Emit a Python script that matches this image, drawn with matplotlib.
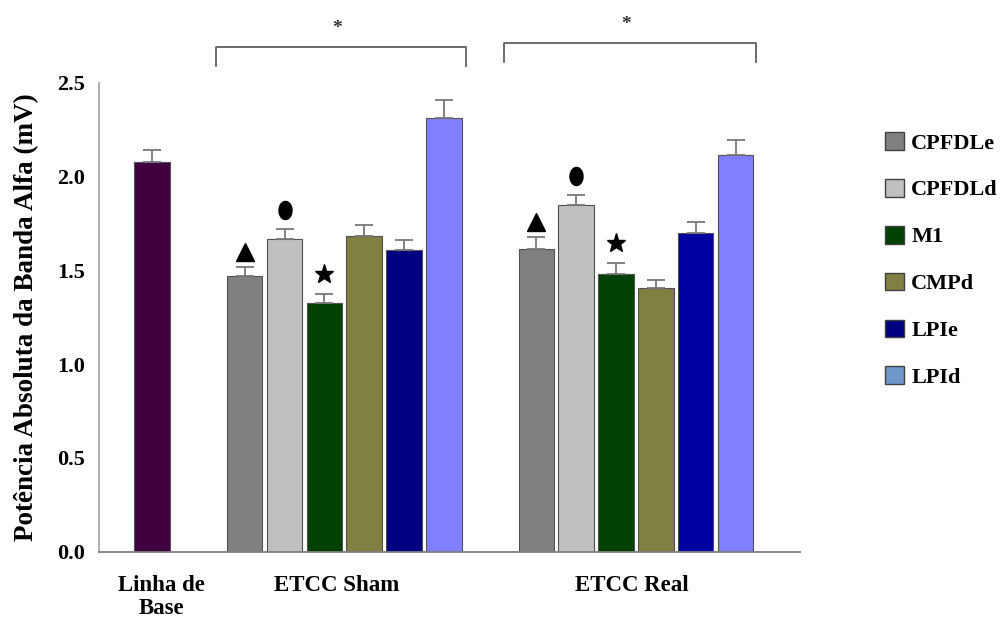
import numpy as np
import matplotlib
matplotlib.use("Agg")
import matplotlib.pyplot as plt
from matplotlib.patches import Patch
from matplotlib.path import Path

# Dados (mV)
regioes = ["CPFDLe", "CPFDLd", "M1", "CMPd", "LPIe", "LPId"]
grupos = ["Linha de\nBase", "ETCC Sham", "ETCC Real"]

linha_base = 2.08
linha_base_erro = 0.06

sham = [1.468, 1.668, 1.329, 1.684, 1.610, 2.311]
sham_erro = [0.048, 0.055, 0.046, 0.060, 0.052, 0.096]

real = [1.617, 1.850, 1.482, 1.405, 1.699, 2.115]
real_erro = [0.060, 0.055, 0.060, 0.043, 0.060, 0.080]

# marcadores de significancia sobre as barras (indice da regiao -> simbolo)
simbolos = {0: "triangulo", 1: "elipse", 2: "estrela"}

cores_sham = ["#808080", "#c0c0c0", "#004000", "#808040", "#000080", "#8080ff"]
cores_real = ["#808080", "#c0c0c0", "#004000", "#808040", "#0000a0", "#8080ff"]
cores_legenda = ["#808080", "#c0c0c0", "#004000", "#808040", "#000080", "#6f96c8"]
cor_base = "#400040"

plt.rcParams["font.family"] = ["Liberation Serif", "DejaVu Serif"]
plt.rcParams["font.weight"] = "bold"

fig = plt.figure(figsize=(10.06, 6.25), dpi=100)
ax = fig.add_axes([0.0987, 0.1173, 0.697, 0.7499])

largura = 0.89
pos_base = 1.32
inicio_sham = 3.65
inicio_real = 10.97
n = len(regioes)

x_sham = inicio_sham + np.arange(n)
x_real = inicio_real + np.arange(n)

estilo_erro = dict(ecolor="#777777", elinewidth=1.3, capsize=6.5, capthick=1.3)

ax.bar(pos_base, linha_base, width=largura, color=cor_base, edgecolor="#505050",
       linewidth=0.8, yerr=[[0], [linha_base_erro]], error_kw=estilo_erro, zorder=2)
ax.bar(x_sham, sham, width=largura, color=cores_sham, edgecolor="#505050",
       linewidth=0.8, yerr=[np.zeros(n), sham_erro], error_kw=estilo_erro, zorder=2)
ax.bar(x_real, real, width=largura, color=cores_real, edgecolor="#505050",
       linewidth=0.8, yerr=[np.zeros(n), real_erro], error_kw=estilo_erro, zorder=2)

# simbolos acima das barras
t = np.linspace(0, 2 * np.pi, 60)
elipse = Path(np.column_stack([0.72 * np.cos(t), np.sin(t)]), closed=True)
marcadores = {"triangulo": ("^", 13, 0.08), "elipse": (elipse, 13, 0.10),
              "estrela": ("*", 14, 0.105)}
for xs, vals, errs in [(x_sham, sham, sham_erro), (x_real, real, real_erro)]:
    for i, nome in simbolos.items():
        m, tam, d = marcadores[nome]
        ax.plot(xs[i], vals[i] + errs[i] + d, marker=m, color="black",
                markersize=tam, linestyle="none", zorder=3)

# chaves de significancia acima dos grupos
for xa, xb, yb, yt in [(2.93, 9.21, 2.59, 2.693), (10.17, 16.48, 2.612, 2.713)]:
    ax.plot([xa, xa, xb, xb], [yb, yt, yt, yb], color="#606060", lw=1.3,
            clip_on=False)
    ax.text((xa + xb) / 2 - 0.1, yt + 0.1, "*", ha="center", va="center",
            fontsize=14, color="#303030")

ax.set_xlim(0, 17.6)
ax.set_ylim(0, 2.5)
ax.set_yticks(np.arange(0, 2.51, 0.5))
ax.set_yticklabels([f"{v:.1f}" for v in np.arange(0, 2.51, 0.5)], fontsize=16,
                   fontweight="bold")
ax.tick_params(axis="y", length=0, pad=10.5)
ax.set_xticks([pos_base + 0.25, x_sham.mean() - 0.2, x_real.mean() - 0.1])
ax.set_xticklabels(grupos, fontsize=16.5, fontweight="bold", linespacing=1.12)
ax.tick_params(axis="x", length=0, pad=17)
ax.set_ylabel("Potência Absoluta da Banda Alfa (mV)", fontsize=19.5,
              fontweight="bold", labelpad=13)

ax.spines["top"].set_visible(False)
ax.spines["right"].set_visible(False)
ax.spines["left"].set_color("#a8a8a8")
ax.spines["bottom"].set_color("#808080")
ax.spines["left"].set_linewidth(1.3)
ax.spines["bottom"].set_linewidth(1.3)

alcas = [Patch(facecolor=c, edgecolor="#404040", linewidth=1.0) for c in cores_legenda]
fig.legend(alcas, regioes, loc="upper left", bbox_to_anchor=(0.871, 0.803),
           frameon=False, fontsize=16, handlelength=0.85, handleheight=0.85,
           handletextpad=0.32, labelspacing=1.14, borderaxespad=0)

fig.savefig("out.png", dpi=100)
